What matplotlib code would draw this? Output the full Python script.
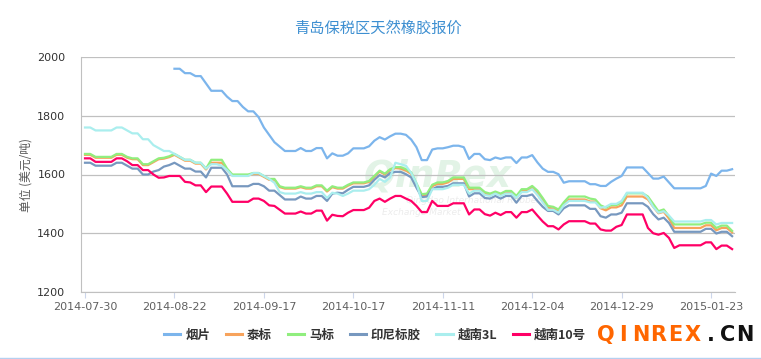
import numpy as np
import matplotlib
matplotlib.use("Agg")
import matplotlib.pyplot as plt
from matplotlib.lines import Line2D

plt.rcParams['font.family'] = ['Noto Sans CJK SC', 'DejaVu Sans']

title = "青岛保税区天然橡胶报价"
y_label = "单位 (美元/吨)"
tick_labels = ["2014-07-30", "2014-08-22", "2014-09-17", "2014-10-17",
               "2014-11-11", "2014-12-04", "2014-12-29", "2015-01-23"]
tick_step = 17  # one label every 17 quotes

# 烟片 only starts on 2014-08-22 (point 17)
yanpian_start = 17
yanpian = [1960, 1960, 1945, 1945, 1935, 1935, 1910, 1885, 1885, 1885,
           1865, 1850, 1850, 1830, 1815, 1815, 1795, 1760, 1735, 1710,
           1695, 1680, 1680, 1680, 1690, 1680, 1680, 1690, 1690, 1655,
           1672, 1664, 1664, 1672, 1689, 1689, 1689, 1696, 1715, 1727,
           1719, 1730, 1739, 1739, 1735, 1719, 1693, 1649, 1649, 1685,
           1689, 1689, 1693, 1698, 1698, 1693, 1653, 1670, 1670, 1652,
           1649, 1658, 1653, 1658, 1658, 1639, 1658, 1658, 1666, 1641,
           1620, 1609, 1609, 1601, 1572, 1577, 1577, 1577, 1577, 1567,
           1567, 1561, 1561, 1575, 1586, 1595, 1624, 1624, 1624, 1624,
           1605, 1586, 1586, 1593, 1573, 1553, 1553, 1553, 1553, 1553,
           1553, 1561, 1603, 1595, 1613, 1613, 1618]

taibiao = [1667, 1667, 1657, 1657, 1657, 1657, 1667, 1667, 1657, 1652,
           1652, 1632, 1632, 1642, 1652, 1654, 1659, 1667, 1657, 1647,
           1647, 1637, 1637, 1617, 1640, 1640, 1640, 1615, 1597, 1597,
           1597, 1597, 1602, 1602, 1592, 1582, 1582, 1557, 1552, 1552,
           1552, 1557, 1552, 1552, 1560, 1560, 1542, 1557, 1552, 1552,
           1562, 1570, 1570, 1570, 1575, 1592, 1610, 1600, 1615, 1622,
           1620, 1613, 1602, 1565, 1528, 1530, 1560, 1568, 1568, 1573,
           1585, 1585, 1585, 1550, 1550, 1550, 1535, 1530, 1537, 1530,
           1538, 1538, 1520, 1544, 1544, 1555, 1538, 1513, 1487, 1484,
           1475, 1498, 1515, 1515, 1515, 1515, 1508, 1508, 1485, 1478,
           1488, 1488, 1495, 1525, 1525, 1525, 1525, 1515, 1490, 1468,
           1473, 1450, 1418, 1418, 1418, 1418, 1418, 1418, 1427, 1427,
           1410, 1418, 1418, 1403]

mabiao = [1670, 1670, 1660, 1660, 1660, 1660, 1670, 1670, 1660, 1655,
          1655, 1635, 1635, 1645, 1655, 1657, 1662, 1670, 1660, 1650,
          1650, 1640, 1640, 1620, 1650, 1650, 1650, 1620, 1600, 1600,
          1600, 1600, 1605, 1605, 1595, 1585, 1585, 1560, 1555, 1555,
          1555, 1560, 1555, 1555, 1563, 1563, 1545, 1560, 1555, 1555,
          1565, 1573, 1573, 1573, 1578, 1595, 1613, 1603, 1618, 1625,
          1625, 1618, 1607, 1570, 1533, 1535, 1565, 1573, 1573, 1578,
          1590, 1590, 1590, 1555, 1555, 1555, 1540, 1535, 1542, 1535,
          1544, 1544, 1527, 1550, 1550, 1561, 1545, 1520, 1493, 1490,
          1481, 1505, 1525, 1525, 1525, 1525, 1518, 1515, 1495, 1487,
          1496, 1496, 1504, 1536, 1536, 1536, 1536, 1525, 1500, 1475,
          1481, 1458, 1430, 1430, 1430, 1430, 1430, 1430, 1436, 1436,
          1418, 1426, 1426, 1408]

yinni = [1640, 1640, 1630, 1630, 1630, 1630, 1640, 1640, 1630, 1620,
         1620, 1600, 1600, 1610, 1615, 1627, 1632, 1640, 1630, 1620,
         1620, 1610, 1610, 1590, 1623, 1623, 1623, 1600, 1560, 1560,
         1560, 1560, 1568, 1568, 1560, 1545, 1545, 1530, 1515, 1515,
         1515, 1525, 1518, 1518, 1527, 1527, 1510, 1535, 1538, 1536,
         1548, 1558, 1558, 1558, 1563, 1582, 1598, 1590, 1605, 1609,
         1609, 1601, 1590, 1555, 1523, 1525, 1550, 1558, 1558, 1561,
         1570, 1570, 1570, 1525, 1536, 1536, 1520, 1518, 1527, 1518,
         1527, 1527, 1504, 1527, 1527, 1532, 1510, 1490, 1476, 1476,
         1464, 1485, 1495, 1495, 1495, 1495, 1483, 1483, 1458, 1453,
         1464, 1464, 1470, 1502, 1502, 1502, 1502, 1490, 1465, 1447,
         1453, 1435, 1405, 1405, 1405, 1405, 1405, 1405, 1415, 1415,
         1399, 1405, 1405, 1390]

yuenan3l = [1760, 1760, 1750, 1750, 1750, 1750, 1760, 1760, 1750, 1740,
            1740, 1720, 1720, 1700, 1690, 1680, 1680, 1670, 1660, 1650,
            1650, 1640, 1640, 1620, 1635, 1635, 1630, 1615, 1595, 1595,
            1595, 1595, 1605, 1605, 1595, 1585, 1572, 1540, 1535, 1535,
            1535, 1540, 1535, 1535, 1540, 1540, 1520, 1538, 1535, 1527,
            1535, 1545, 1545, 1545, 1550, 1565, 1585, 1575, 1590, 1640,
            1635, 1630, 1605, 1570, 1510, 1510, 1550, 1550, 1550, 1555,
            1565, 1565, 1565, 1535, 1545, 1545, 1530, 1527, 1535, 1527,
            1535, 1535, 1520, 1540, 1540, 1550, 1530, 1505, 1480, 1480,
            1470, 1495, 1510, 1510, 1510, 1510, 1505, 1505, 1487, 1490,
            1500, 1500, 1510, 1538, 1538, 1538, 1538, 1520, 1490, 1470,
            1475, 1460, 1440, 1440, 1440, 1440, 1440, 1440, 1445, 1445,
            1430, 1435, 1435, 1435]

yuenan10 = [1655, 1655, 1643, 1643, 1643, 1643, 1655, 1655, 1645, 1632,
            1632, 1615, 1615, 1600, 1589, 1590, 1595, 1595, 1595, 1575,
            1573, 1563, 1563, 1540, 1559, 1559, 1559, 1535, 1507, 1507,
            1507, 1507, 1518, 1518, 1510, 1495, 1493, 1480, 1467, 1467,
            1467, 1474, 1467, 1467, 1477, 1477, 1443, 1463, 1459, 1458,
            1470, 1479, 1479, 1479, 1487, 1510, 1518, 1507, 1518, 1527,
            1527, 1518, 1510, 1493, 1472, 1472, 1510, 1493, 1493, 1493,
            1502, 1502, 1502, 1464, 1481, 1481, 1465, 1460, 1470, 1462,
            1472, 1472, 1453, 1472, 1472, 1481, 1460, 1440, 1424, 1424,
            1413, 1430, 1441, 1441, 1441, 1441, 1433, 1433, 1413, 1409,
            1409, 1422, 1428, 1464, 1464, 1464, 1464, 1418, 1400, 1395,
            1401, 1384, 1350, 1359, 1359, 1359, 1359, 1359, 1369, 1369,
            1346, 1358, 1358, 1346]

names = ["烟片", "泰标", "马标", "印尼标胶", "越南3L", "越南10号"]
colors = ["#7cb5ec", "#f7a35c", "#90ee7e", "#7798bf", "#aaeeee", "#ff0066"]

n = len(mabiao)
x_all = np.arange(n)
x_yp = np.arange(yanpian_start, yanpian_start + len(yanpian))

fig = plt.figure(figsize=(7.61, 3.59), dpi=100)
ax = fig.add_axes([80.7 / 761, 1 - 292 / 359, (735 - 80.7) / 761, (292 - 57) / 359])

# faint watermark behind the lines
ax.text(0.545, 0.49, "QinRex", transform=ax.transAxes, ha='center', va='center',
        fontsize=27, fontstyle='italic', fontweight='bold', color='#e2f3e6',
        family='DejaVu Sans', zorder=0.5)
ax.text(0.6, 0.39, "Qingdao International Rubber", transform=ax.transAxes,
        ha='center', va='center', fontsize=6.5, fontstyle='italic',
        color='#ececec', family='DejaVu Sans', zorder=0.5)
ax.text(0.52, 0.34, "Exchange Market", transform=ax.transAxes,
        ha='center', va='center', fontsize=6.5, fontstyle='italic',
        color='#ececec', family='DejaVu Sans', zorder=0.5)

series = [yanpian, taibiao, mabiao, yinni, yuenan3l, yuenan10]
handles = []
for ii in range(0, len(series)):
    xs = x_yp if ii == 0 else x_all
    ax.plot(xs, series[ii], color=colors[ii], lw=1.6,
            solid_joinstyle='round', zorder=3 + ii)
    handles.append(Line2D([], [], color=colors[ii], lw=2.2))

ax.set_xlim(-0.82, n - 1 + 0.55)
ax.set_ylim(1200, 2000)
ax.set_yticks([1200, 1400, 1600, 1800, 2000])
ax.set_xticks(np.arange(0, n, tick_step)[:len(tick_labels)])
ax.set_xticklabels(tick_labels)

ax.grid(axis='y', color='#c0c0c0', lw=0.9)
ax.set_axisbelow(True)
for s in ['top', 'right']:
    ax.spines[s].set_visible(False)
ax.spines['left'].set_color('#c0c0c0')
ax.spines['bottom'].set_color('#c0c0c0')
ax.tick_params(axis='y', length=0, pad=11, labelsize=8, labelcolor='#333333')
ax.tick_params(axis='x', length=4, color='#ccd6eb', pad=3, labelsize=8,
               labelcolor='#606060')
for lab in ax.get_xticklabels() + ax.get_yticklabels():
    lab.set_family('DejaVu Sans')

fig.text(0.497, 1 - 28 / 359, title, ha='center', va='center', fontsize=11,
         color='#3d8fd1')
fig.text(26 / 761, 1 - 175 / 359, y_label, ha='center', va='center',
         rotation=90, fontsize=8.5, color='#555555')

fig.legend(handles, names, loc='center', bbox_to_anchor=(0.493, 1 - 335 / 359),
           ncol=6, frameon=False, handlelength=1.3, handletextpad=0.4,
           columnspacing=1.25, prop={'size': 9, 'weight': 'bold'},
           labelcolor='#333333')

# site mark at bottom right, drawn over the end of the legend
mark = "QINREX.CN"
for k in range(0, len(mark)):
    c = '#ff6600' if k < 6 else '#111111'
    t = fig.text((606 + 17.4 * k) / 761, 1 - 335 / 359, mark[k], ha='center',
                 va='center', fontsize=15, fontweight='bold', color=c,
                 family='DejaVu Sans')
    t.set_bbox(dict(facecolor='white', edgecolor='none', pad=0.5, alpha=0.0))

fig.add_artist(Line2D([0, 1], [1.5 / 359, 1.5 / 359], transform=fig.transFigure,
                      color='#b5d0f0', lw=1))

fig.savefig("out.png", dpi=100)
